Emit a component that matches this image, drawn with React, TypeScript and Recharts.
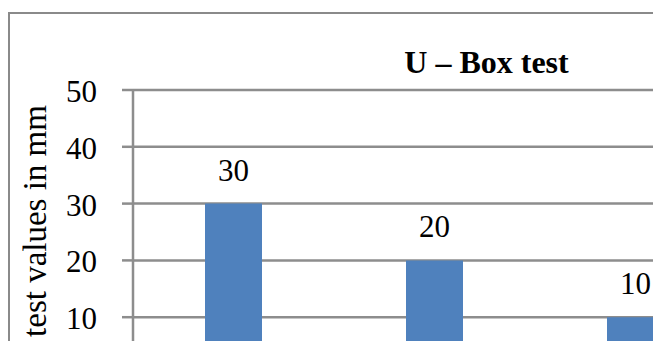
import React from 'react';
import { BarChart, Bar, XAxis, YAxis, CartesianGrid, LabelList } from 'recharts';

// Test categories and measured values (mm)
const categories = ['Mix 1', 'Mix 2', 'Mix 3'];
const values = [30, 20, 10];
const yTicks = [0, 10, 20, 30, 40, 50];

const chartTitle = 'U – Box test';
const yAxisTitle = 'test values in mm';

const data = categories.map((name, i) => ({ name, value: values[i] }));

const GRID = '#8d8d8d';
const BAR = '#4f81bd';
const SERIF = '"Liberation Serif", "Times New Roman", serif';

const TickLabel = (props: any) => {
  const { x, y, payload } = props;
  return (
    <text x={x} y={y} dy={12} textAnchor="end" fontFamily={SERIF} fontSize={31} fill="#000">
      {payload.value}
    </text>
  );
};

const ValueLabel = (props: any) => {
  const { x, y, width, value } = props;
  return (
    <text x={x + width / 2} y={y - 23} textAnchor="middle" fontFamily={SERIF} fontSize={31} fill="#000">
      {value}
    </text>
  );
};

export default function App() {
  return (
    <div
      style={{
        position: 'absolute',
        left: 0,
        top: 0,
        width: 653,
        height: 341,
        overflow: 'hidden',
        background: '#fff',
      }}
    >
      {/* chart frame */}
      <div
        style={{
          position: 'absolute',
          left: 8,
          top: 12,
          width: 940,
          height: 520,
          border: '2.5px solid #8a8a8a',
          boxSizing: 'border-box',
        }}
      />
      <div style={{ position: 'absolute', left: 0, top: 0 }}>
        <BarChart
          width={760}
          height={420}
          data={data}
          margin={{ top: 90, right: 24, left: 0, bottom: 46 }}
          barSize={57}
        >
          <CartesianGrid vertical={false} stroke={GRID} strokeWidth={2.5} />
          <XAxis dataKey="name" hide />
          <YAxis
            width={133}
            domain={[0, 50]}
            ticks={yTicks}
            interval={0}
            tickSize={11}
            tickMargin={25}
            axisLine={{ stroke: GRID, strokeWidth: 2.5 }}
            tickLine={{ stroke: GRID, strokeWidth: 2.5 }}
            tick={<TickLabel />}
          />
          <Bar dataKey="value" fill={BAR} isAnimationActive={false}>
            <LabelList dataKey="value" content={<ValueLabel />} />
          </Bar>
        </BarChart>
      </div>
      <svg
        width={653}
        height={341}
        style={{ position: 'absolute', left: 0, top: 0, pointerEvents: 'none' }}
      >
        <text
          x={486.5}
          y={73}
          textAnchor="middle"
          fontFamily={SERIF}
          fontWeight="bold"
          fontSize={32}
          fill="#000"
        >
          {chartTitle}
        </text>
        <text
          transform="translate(46, 221) rotate(-90)"
          textAnchor="middle"
          fontFamily={SERIF}
          fontSize={33}
          fill="#000"
        >
          {yAxisTitle}
        </text>
      </svg>
    </div>
  );
}
